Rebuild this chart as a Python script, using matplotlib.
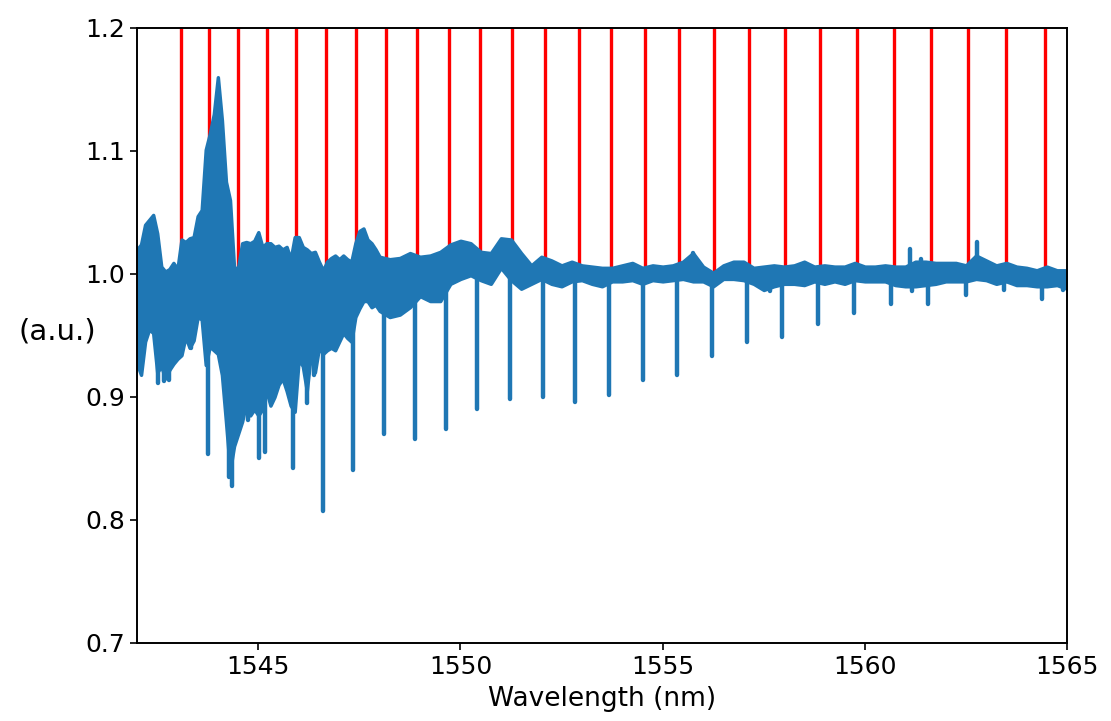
import matplotlib
matplotlib.use('Agg')
import matplotlib.pyplot as plt

# 参考线（红色竖线）的波长位置
ref_wl = [1543.09, 1543.78, 1544.49, 1545.21, 1545.93, 1546.68, 1547.42, 1548.16,
          1548.93, 1549.72, 1550.49, 1551.28, 1552.10, 1552.92, 1553.73, 1554.57,
          1555.41, 1556.28, 1557.14, 1558.02, 1558.90, 1559.80, 1560.72, 1561.63,
          1562.55, 1563.49, 1564.46]

# 光谱噪声带：波长、上包络、下包络
env_wl = [1542.0, 1542.1, 1542.2, 1542.3, 1542.4, 1542.5, 1542.6, 1542.7, 1542.8, 1542.9,
          1543.0, 1543.1, 1543.2, 1543.3, 1543.4, 1543.5, 1543.6, 1543.7, 1543.8, 1543.9,
          1544.0, 1544.1, 1544.2, 1544.3, 1544.4, 1544.5, 1544.6, 1544.7, 1544.8, 1544.9,
          1545.0, 1545.1, 1545.2, 1545.3, 1545.4, 1545.5, 1545.6, 1545.7, 1545.8, 1545.9,
          1546.0, 1546.1, 1546.2, 1546.3, 1546.4, 1546.5, 1546.6, 1546.7, 1546.8, 1546.9,
          1547.0, 1547.1, 1547.2, 1547.3, 1547.4, 1547.5, 1547.6, 1547.7, 1547.8, 1547.9,
          1548.0, 1548.25, 1548.5, 1548.75, 1549.0, 1549.25, 1549.5, 1549.75,
          1550.0, 1550.25, 1550.5, 1550.75, 1551.0, 1551.25, 1551.5, 1551.75,
          1552.0, 1552.25, 1552.5, 1552.75, 1553.0, 1553.25, 1553.5, 1553.75,
          1554.0, 1554.25, 1554.5, 1554.75, 1555.0, 1555.25, 1555.5, 1555.75,
          1556.0, 1556.25, 1556.5, 1556.75, 1557.0, 1557.25, 1557.5, 1557.75,
          1558.0, 1558.25, 1558.5, 1558.75, 1559.0, 1559.25, 1559.5, 1559.75,
          1560.0, 1560.25, 1560.5, 1560.75, 1561.0, 1561.25, 1561.5, 1561.75,
          1562.0, 1562.25, 1562.5, 1562.75, 1563.0, 1563.25, 1563.5, 1563.75,
          1564.0, 1564.25, 1564.5, 1564.75, 1565.0]
env_hi = [1.020, 1.024, 1.040, 1.044, 1.048, 1.033, 1.006, 1.002, 1.004, 1.009,
          1.004, 1.028, 1.026, 1.029, 1.030, 1.047, 1.052, 1.101, 1.114, 1.130,
          1.160, 1.125, 1.075, 1.060, 1.005, 1.005, 1.025, 1.026, 1.025, 1.027,
          1.034, 1.022, 1.025, 1.025, 1.022, 1.023, 1.020, 1.022, 1.012, 1.030,
          1.030, 1.022, 1.020, 1.017, 1.018, 1.010, 1.003, 1.010, 1.013, 1.015,
          1.012, 1.015, 1.012, 1.010, 1.025, 1.035, 1.037, 1.028, 1.025, 1.020,
          1.014, 1.012, 1.013, 1.017, 1.014, 1.015, 1.018, 1.024,
          1.027, 1.025, 1.018, 1.017, 1.029, 1.028, 1.017, 1.007,
          1.014, 1.011, 1.007, 1.010, 1.007, 1.006, 1.005, 1.005,
          1.007, 1.009, 1.005, 1.007, 1.006, 1.007, 1.010, 1.017,
          1.006, 1.001, 1.007, 1.010, 1.010, 1.005, 1.006, 1.007,
          1.006, 1.007, 1.010, 1.006, 1.007, 1.006, 1.006, 1.009,
          1.006, 1.006, 1.007, 1.006, 1.006, 1.010, 1.010, 1.009,
          1.009, 1.009, 1.007, 1.015, 1.011, 1.007, 1.009, 1.006,
          1.005, 1.003, 1.006, 1.003, 1.003]
env_lo = [0.927, 0.918, 0.945, 0.955, 0.952, 0.920, 0.925, 0.915, 0.922, 0.927,
          0.931, 0.934, 0.949, 0.940, 0.946, 0.965, 0.963, 0.926, 0.941, 0.938,
          0.935, 0.918, 0.880, 0.840, 0.860, 0.870, 0.880, 0.895, 0.885, 0.890,
          0.885, 0.890, 0.905, 0.893, 0.900, 0.910, 0.915, 0.905, 0.893, 0.888,
          0.931, 0.925, 0.905, 0.935, 0.920, 0.940, 0.935, 0.938, 0.940, 0.938,
          0.945, 0.952, 0.948, 0.945, 0.965, 0.972, 0.978, 0.978, 0.973, 0.975,
          0.970, 0.965, 0.967, 0.973, 0.982, 0.978, 0.978, 0.992,
          0.996, 0.999, 0.995, 0.992, 1.005, 0.995, 0.988, 0.992,
          0.996, 0.992, 0.990, 0.994, 0.995, 0.992, 0.990, 0.994,
          0.994, 0.995, 0.992, 0.995, 0.994, 0.995, 0.996, 0.994,
          0.994, 0.990, 0.996, 0.996, 0.995, 0.992, 0.987, 0.990,
          0.992, 0.992, 0.991, 0.994, 0.992, 0.994, 0.992, 0.995,
          0.994, 0.994, 0.994, 0.991, 0.990, 0.990, 0.991, 0.992,
          0.994, 0.994, 0.994, 0.996, 0.995, 0.992, 0.994, 0.991,
          0.991, 0.990, 0.990, 0.991, 0.988]

# 窄的向下尖峰（谐振吸收峰及噪声尖峰）
dip_wl = [1542.53, 1542.66, 1542.78, 1543.34, 1543.75, 1544.28, 1544.36, 1544.74,
          1545.02, 1545.17, 1545.87, 1546.21, 1546.39, 1546.59, 1547.33, 1548.11,
          1548.87, 1549.64, 1550.42, 1551.22, 1552.03, 1552.84, 1553.67, 1554.51,
          1555.36, 1556.23, 1557.09, 1557.66, 1557.95, 1558.84, 1559.74, 1560.65,
          1561.16, 1561.57, 1562.49, 1563.44, 1564.38, 1564.91]
dip_min = [0.911, 0.913, 0.914, 0.940, 0.854, 0.835, 0.828, 0.881,
           0.850, 0.855, 0.842, 0.895, 0.918, 0.807, 0.841, 0.870,
           0.866, 0.874, 0.890, 0.898, 0.900, 0.896, 0.902, 0.914,
           0.918, 0.933, 0.945, 0.986, 0.949, 0.959, 0.968, 0.976,
           0.986, 0.976, 0.983, 0.987, 0.980, 0.987]

# 窄的向上尖峰
spike_wl = [1555.76, 1561.12, 1561.40, 1562.77]
spike_max = [1.017, 1.020, 1.012, 1.026]

blue = '#1f77b4'

fig = plt.figure(figsize=(11.11, 7.21), dpi=100)
ax = fig.add_axes([0.1233, 0.1082, 0.8371, 0.8530])

ax.vlines(ref_wl, 1.0, 1.2, color='red', linewidth=2.4, zorder=1)
ax.fill_between(env_wl, env_lo, env_hi, facecolor=blue, edgecolor=blue,
                linewidth=2.5, joinstyle='round', zorder=2)
ax.vlines(dip_wl, dip_min, 1.0, color=blue, linewidth=3.2, capstyle='round', zorder=2)
ax.vlines(spike_wl, 1.0, spike_max, color=blue, linewidth=3.2, capstyle='round', zorder=2)

ax.set_xlim(1542, 1565)
ax.set_ylim(0.7, 1.2)
ax.set_xticks([1545, 1550, 1555, 1560, 1565])
ax.set_yticks([0.7, 0.8, 0.9, 1.0, 1.1, 1.2])
ax.tick_params(labelsize=18, length=5, width=1.2)
for sp in ax.spines.values():
    sp.set_linewidth(1.4)

ax.set_xlabel('Wavelength (nm)', fontsize=19, labelpad=5)
ax.set_ylabel('(a.u.)', fontsize=21, rotation=0, ha='center', va='center')
ax.yaxis.set_label_coords(-0.086, 0.507)

plt.savefig('out.png', dpi=100)
